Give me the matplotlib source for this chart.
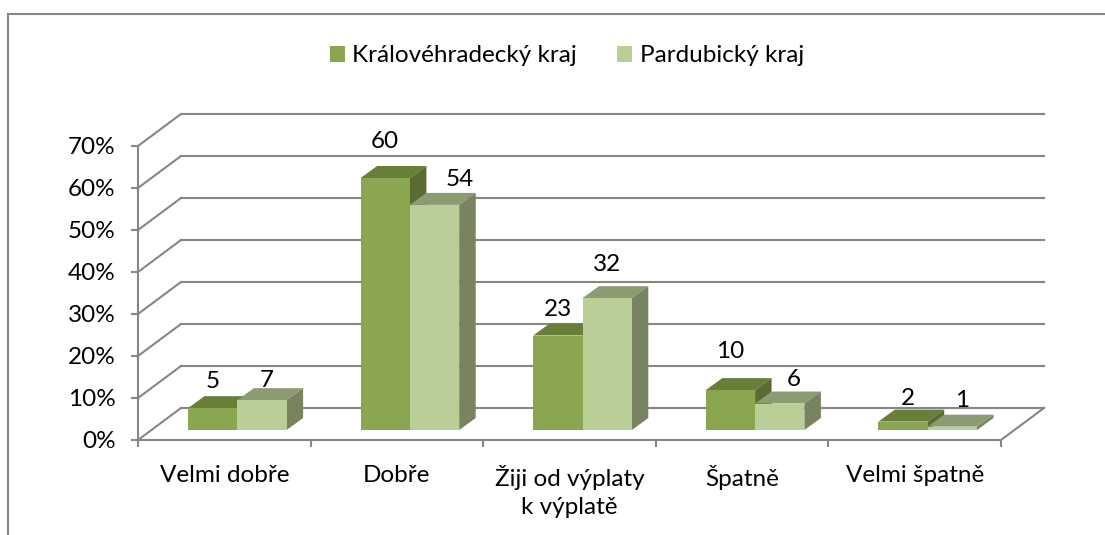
import matplotlib
matplotlib.use('Agg')
import matplotlib.pyplot as plt
from matplotlib.patches import Polygon, Rectangle

plt.rcParams['font.family'] = ['Lato', 'DejaVu Sans']

categories = ['Velmi dobře', 'Dobře', 'Žiji od výplaty\nk výplatě', 'Špatně', 'Velmi špatně']
series_names = ['Královéhradecký kraj', 'Pardubický kraj']
# vysky sloupcu, popisky jsou zaokrouhlene
hradec = [5.2, 60, 22.5, 9.5, 2]
pardubice = [7.1, 53.6, 31.4, 6.3, 0.8]
hradec_labels = [5, 60, 23, 10, 2]
pardubice_labels = [7, 54, 32, 6, 1]
y_ticks = [0, 10, 20, 30, 40, 50, 60, 70]

# posuny popisku v pixelech (dx, dy)
hradec_offs = [(0, 27), (0, 36), (0, 26), (0, 39), (5, 23)]
pardubice_offs = [(5, 20), (25, 25), (0, 34), (14, 24), (10, 26)]

W, H = 1105, 535
GRAY = '#868686'
FS = 17.5
LEFT, RIGHT, TOP, BOTTOM = 138, 1001, 146, 440
px_x = (RIGHT - LEFT) / 5
px_y = (BOTTOM - TOP) / 70

fig = plt.figure(figsize=(W / 100, H / 100), dpi=100)
ax = fig.add_axes([LEFT / W, 1 - BOTTOM / H, (RIGHT - LEFT) / W, (BOTTOM - TOP) / H])
ax.set_xlim(0, 5)
ax.set_ylim(0, 70)
ax.patch.set_visible(False)

# hloubka grafu a sloupcu v jednotkach dat
wall_dx, wall_dy = 43 / px_x, 32 / px_y
bar_dx, bar_dy = 16.5 / px_x, 12 / px_y
base = 10 / px_y
pad = 50 / px_x
width = 49.3 / px_x

# mrizka
for t in y_ticks:
    ax.plot([0, wall_dx], [t, t + wall_dy], color=GRAY, lw=1.5, clip_on=False, zorder=1)
    ax.plot([wall_dx, 5 + wall_dx], [t + wall_dy, t + wall_dy], color=GRAY, lw=1.5, clip_on=False, zorder=1)
ax.plot([5, 5 + wall_dx], [0, wall_dy], color=GRAY, lw=1.5, clip_on=False, zorder=1)


def draw_series(values, labels, shift, front, top, side, name, offs, z):
    for i, v in enumerate(values):
        x0 = i + pad + shift
        x1 = x0 + width
        y1 = base + v
        ax.add_patch(Polygon([(x0, y1), (x1, y1), (x1 + bar_dx, y1 + bar_dy), (x0 + bar_dx, y1 + bar_dy)],
                             closed=True, fc=top, ec='none', clip_on=False, zorder=z))
        ax.add_patch(Polygon([(x1, base), (x1 + bar_dx, base + bar_dy), (x1 + bar_dx, y1 + bar_dy), (x1, y1)],
                             closed=True, fc=side, ec='none', clip_on=False, zorder=z))
        ax.add_patch(Rectangle((x0, base), width, v, fc=front, ec='none', clip_on=False, zorder=z + 0.1))
        ax.annotate(str(labels[i]), xy=((x0 + x1) / 2, y1), xytext=offs[i], textcoords='offset pixels',
                    ha='center', va='center', fontsize=FS, color='black', zorder=10)
    return Rectangle((0, 0), 1, 1, fc=front, ec='none', label=name)


h1 = draw_series(hradec, hradec_labels, 0, '#8BA650', '#677F38', '#5A6C31', series_names[0], hradec_offs, 3)
h2 = draw_series(pardubice, pardubice_labels, width, '#BACF97', '#8C9B72', '#78835F', series_names[1], pardubice_offs, 4)

# osy
for s in ['top', 'right']:
    ax.spines[s].set_visible(False)
for s in ['left', 'bottom']:
    ax.spines[s].set_color(GRAY)
    ax.spines[s].set_linewidth(1.5)
ax.set_yticks(y_ticks)
ax.set_yticklabels([f'{t}%' for t in y_ticks], fontsize=FS)
ax.set_xticks(range(6))
ax.set_xticklabels([])
ax.set_xticks([i + 0.5 for i in range(5)], minor=True)
ax.set_xticklabels(categories, minor=True, fontsize=FS, linespacing=1.4)
ax.tick_params(axis='both', which='major', color=GRAY, width=1.5, length=5)
ax.tick_params(axis='x', which='minor', length=0, pad=18)
ax.tick_params(axis='y', pad=11)

fig.legend(handles=[h1, h2], loc='center', bbox_to_anchor=(567 / W, 1 - 56 / H), ncol=2, frameon=False,
           fontsize=FS, handlelength=0.62, handleheight=0.62, handletextpad=0.3, columnspacing=1.65,
           borderpad=0, borderaxespad=0)

# ramecek grafu
fig.add_artist(plt.Line2D([7.5 / W, 7.5 / W], [0, 1 - 14 / H], color=GRAY, lw=1.5))
fig.add_artist(plt.Line2D([7.5 / W, 1], [1 - 14 / H, 1 - 14 / H], color=GRAY, lw=1.5))

fig.savefig('out.png', dpi=100)
